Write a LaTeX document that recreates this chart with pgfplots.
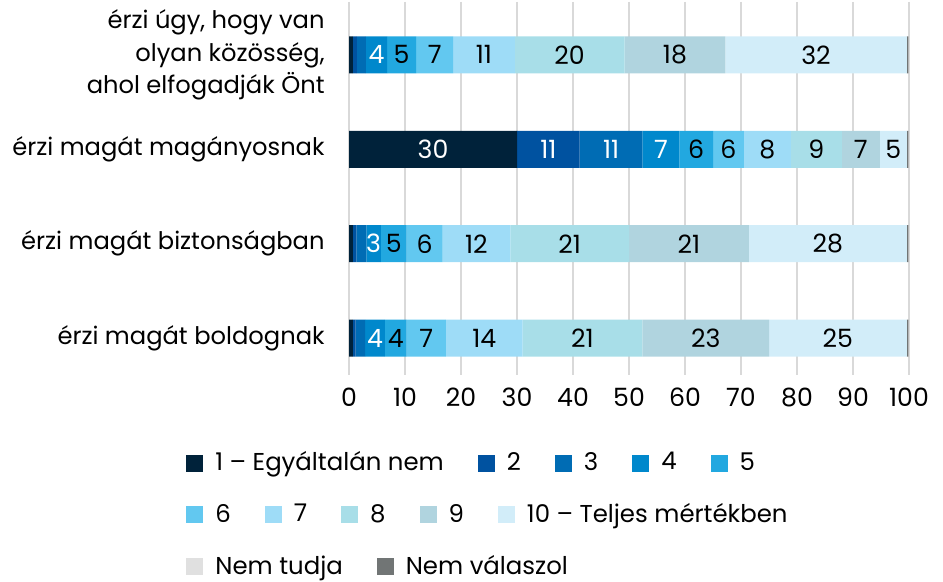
\documentclass[border=0pt]{standalone}
\usepackage{fontspec}
\setmainfont{Poppins}
\usepackage{pgfplots}
\pgfplotsset{compat=1.18}

\definecolor{c1}{HTML}{00223A}
\definecolor{c2}{HTML}{0052A0}
\definecolor{c3}{HTML}{006CB4}
\definecolor{c4}{HTML}{0088CC}
\definecolor{c5}{HTML}{22A8E0}
\definecolor{c6}{HTML}{62C8F0}
\definecolor{c7}{HTML}{9EDCF7}
\definecolor{c8}{HTML}{A8DEE8}
\definecolor{c9}{HTML}{B0D4DF}
\definecolor{c10}{HTML}{D2EDF9}
\definecolor{cnt}{HTML}{E0E0E0}
\definecolor{cnv}{HTML}{717575}

\pgfplotsset{
  sq/.style={legend image code/.code={\fill[##1] (0pt,-4.25pt) rectangle (8.5pt,4.25pt);}},
  legrow/.style={
    legend columns=-1,
    legend cell align=left,
    legend style={draw=none, fill=none, inner sep=0pt, anchor=west,
      font=\fontsize{12.2}{15}\selectfont,
      nodes={inner sep=0pt},
      /tikz/every odd column/.append style={column sep=6pt},
      /tikz/every even column/.append style={column sep=17pt}},
  },
  frame/.style={at={(174.5pt,103.5pt)}, anchor=south west,
    scale only axis, width=280pt, height=186.5pt},
}

\begin{document}
\fontsize{12}{15}\selectfont
\begin{tikzpicture}
\useasboundingbox (0,0) rectangle (471.5pt,291pt);
\begin{axis}[
  frame,
  xbar stacked,
  bar width=18.5pt,
  xmin=0, xmax=100,
  ymin=-0.56, ymax=3.39,
  y dir=reverse,
  xtick={0,10,...,100},
  ytick={0,1,2,3},
  yticklabels={{érzi úgy, hogy van\\olyan közösség,\\ahol elfogadják Önt},
    érzi magát magányosnak, érzi magát biztonságban, érzi magát boldognak},
  yticklabel style={align=right, inner sep=0pt, xshift=-12pt,
    font=\fontsize{12.1}{16.25}\selectfont},
  xticklabel style={inner sep=0pt, yshift=-6.5pt, font=\fontsize{12.6}{15}\selectfont},
  /pgf/number format/assume math mode=true,
  xmajorgrids,
  major grid style={color=black!15, line width=0.7pt},
  axis line style={draw=none},
  major tick length=0pt,
  point meta=explicit symbolic,
  nodes near coords,
  every node near coord/.append style={font=\fontsize{12.6}{15}\selectfont, text=black},
  legrow,
  legend style={at={(-0.2911,-0.236)}},
]
\addplot[sq, fill=c1, draw=none, every node near coord/.append style={text=white}] coordinates
  {(0.7,0) [] (30,1) [30] (0.7,2) [] (0.7,3) []};
\addplot[sq, fill=c2, draw=none, every node near coord/.append style={text=white}] coordinates
  {(0.7,0) [] (11.2,1) [11] (0.6,2) [] (0.5,3) []};
\addplot[sq, fill=c3, draw=none, every node near coord/.append style={text=white}] coordinates
  {(1.6,0) [] (11.2,1) [11] (1.8,2) [] (1.7,3) []};
\addplot[sq, fill=c4, draw=none, every node near coord/.append style={text=white}] coordinates
  {(3.8,0) [4] (6.6,1) [7] (2.6,2) [3] (3.5,3) [4]};
\addplot[sq, fill=c5, draw=none] coordinates
  {(5.2,0) [5] (6.0,1) [6] (4.6,2) [5] (3.9,3) [4]};
\addplot[sq, fill=c6, draw=none, forget plot] coordinates
  {(6.6,0) [7] (5.5,1) [6] (6.4,2) [6] (7.0,3) [7]};
\addplot[sq, fill=c7, draw=none, forget plot] coordinates
  {(11.0,0) [11] (8.4,1) [8] (12.1,2) [12] (13.7,3) [14]};
\addplot[sq, fill=c8, draw=none, forget plot] coordinates
  {(19.6,0) [20] (9.1,1) [9] (21.2,2) [21] (21.4,3) [21]};
\addplot[sq, fill=c9, draw=none, forget plot] coordinates
  {(18.0,0) [18] (6.8,1) [7] (21.4,2) [21] (22.6,3) [23]};
\addplot[sq, fill=c10, draw=none, forget plot] coordinates
  {(32.4,0) [32] (4.8,1) [5] (28.2,2) [28] (24.6,3) [25]};
\addplot[sq, fill=cnt, draw=none, forget plot] coordinates
  {(0,0) [] (0,1) [] (0,2) [] (0,3) []};
\addplot[sq, fill=cnv, draw=none, forget plot] coordinates
  {(0.3,0) [] (0.3,1) [] (0.3,2) [] (0.3,3) []};
\legend{1 – Egyáltalán nem, 2, 3, 4, 5}
\end{axis}

\begin{axis}[frame, hide axis, xmin=0, xmax=1, ymin=0, ymax=1,
  legrow, legend style={at={(-0.2911,-0.3753)}}]
\addlegendimage{sq, fill=c6, draw=none}
\addlegendentry{6}
\addlegendimage{sq, fill=c7, draw=none}
\addlegendentry{7}
\addlegendimage{sq, fill=c8, draw=none}
\addlegendentry{8}
\addlegendimage{sq, fill=c9, draw=none}
\addlegendentry{9}
\addlegendimage{sq, fill=c10, draw=none}
\addlegendentry{10 – Teljes mértékben}
\end{axis}

\begin{axis}[frame, hide axis, xmin=0, xmax=1, ymin=0, ymax=1,
  legrow, legend style={at={(-0.2911,-0.5147)}}]
\addlegendimage{sq, fill=cnt, draw=none}
\addlegendentry{Nem tudja}
\addlegendimage{sq, fill=cnv, draw=none}
\addlegendentry{Nem válaszol}
\end{axis}
\end{tikzpicture}
\end{document}
